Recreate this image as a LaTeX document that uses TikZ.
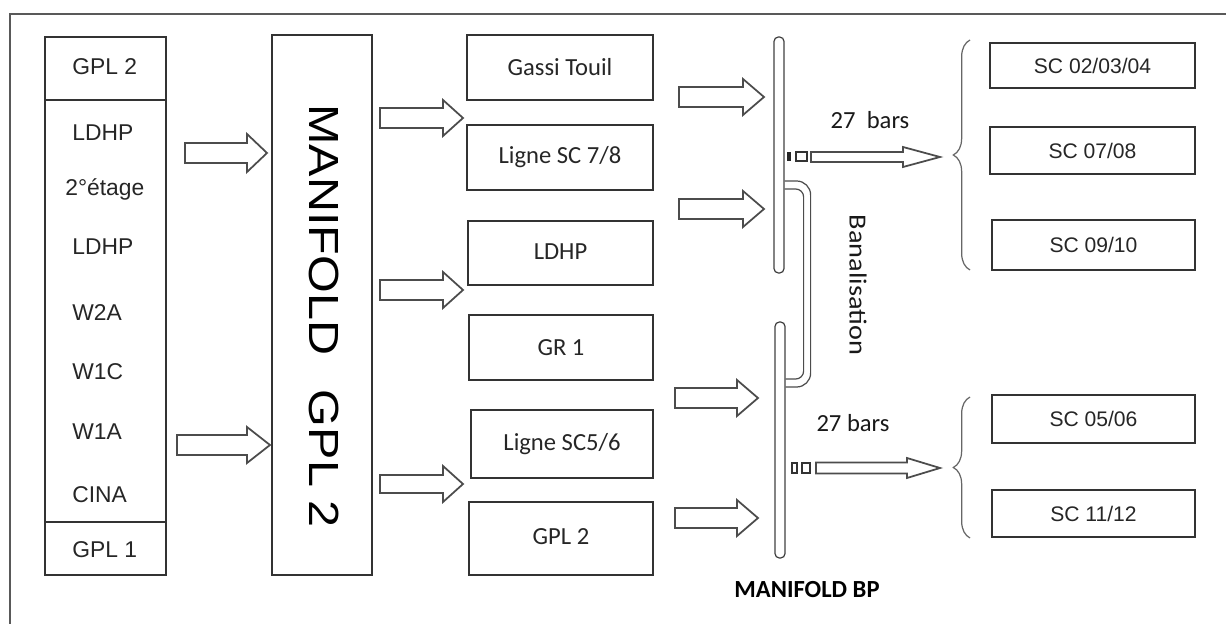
\documentclass[tikz,border=0pt]{standalone}
\usepackage{fontspec}
\usepackage{graphicx}
\setmainfont{Liberation Sans}
\newfontfamily\carl{Carlito}
\usetikzlibrary{calc,decorations.pathreplacing}
% horizontal hollow block arrow: #1 start, #2 tip, #3 shaft half, #4 head half, #5 head length
\newcommand\blockarr[5]{%
  \draw[blk] ($(#1)+(0,-#3)$) -- ($(#2)+(-#5,-#3)$) -- ($(#2)+(-#5,-#4)$) -- (#2)
    -- ($(#2)+(-#5,#4)$) -- ($(#2)+(-#5,#3)$) -- ($(#1)+(0,#3)$) -- cycle;}
\begin{document}
\begin{tikzpicture}[x=0.02cm,y=-0.02cm,
  box/.style={draw=black!80, line width=0.8pt, inner sep=0pt, text=black!85},
  blk/.style={draw=black!70, line width=1pt, fill=white, line join=miter},
  frame/.style={draw=black!65, line width=1.1pt},
  bar/.style={draw=black!75, line width=0.7pt, rounded corners=2.5pt, inner sep=0pt, minimum width=10*0.02cm},
  pipe/.style={draw=black!70, line width=0.7pt},
  brc/.style={draw=black!60, line width=0.7pt, decorate, decoration={brace, amplitude=9.5pt}},
  lft/.style={anchor=west, inner sep=0pt, text=black!85, font=\fontsize{13}{15}\selectfont},
  mid/.style={box, font=\carl\fontsize{14}{16}\selectfont},
  sc/.style={box, font=\fontsize{12}{14}\selectfont, minimum height=47*0.02cm},
  lbl/.style={inner sep=0pt, text=black!90, font=\carl\fontsize{14}{16}\selectfont}]
\useasboundingbox (0,0) rectangle (1226,624);
% outer frame (only left and top edges visible)
\draw[frame] (10,624) -- (10,14) -- (1226,14);

% left column
\node[box, minimum width=121*0.02cm, minimum height=63*0.02cm] (gpl2t) at (105.5,68.5) {};
\node[box, minimum width=121*0.02cm, minimum height=422*0.02cm] (srcs) at (105.5,311) {};
\node[box, minimum width=121*0.02cm, minimum height=53*0.02cm] (gpl1b) at (105.5,548.5) {};
\node[lft] (tGPLa) at (72,67) {GPL 2};
\node[lft] (tLDHPa) at (72,133) {LDHP};
\node[lft] (tEtage) at (65,189) {2°étage};
\node[lft] (tLDHPb) at (72,247) {LDHP};
\node[lft] (tW2A) at (72,313) {W2A};
\node[lft] (tW1C) at (72,372) {W1C};
\node[lft] (tW1A) at (72,432) {W1A};
\node[lft] (tCINA) at (72,495) {CINA};
\node[lft] (tGPLb) at (72,550) {GPL 1};

% manifold GPL 2
\node[box, minimum width=100*0.02cm, minimum height=540*0.02cm] (man) at (322,305) {};
\node[rotate=-90, inner sep=0pt, font=\fontsize{24}{28}\selectfont] (manT) at (324,316)
  {\scalebox{1.15}[1]{MANIFOLD\hspace{0.72em}GPL 2}};

% middle boxes
\node[mid, minimum width=186*0.02cm, minimum height=65*0.02cm] (gassi) at (560,67.5) {Gassi Touil};
\node[mid, minimum width=186*0.02cm, minimum height=65*0.02cm] (l78) at (560,157.5) {Ligne SC 7/8};
\node[mid, minimum width=185*0.02cm, minimum height=64*0.02cm] (ldhp) at (560.5,253) {\raisebox{2pt}{LDHP}};
\node[mid, minimum width=184*0.02cm, minimum height=65*0.02cm] (gr1) at (561,347.5) {GR 1};
\node[mid, minimum width=182*0.02cm, minimum height=68*0.02cm, line width=1.1pt] (l56) at (562,444) {Ligne SC5/6};
\node[mid, minimum width=184*0.02cm, minimum height=73*0.02cm] (gpl2m) at (561,538.5) {\raisebox{2pt}{GPL 2}};

% manifold BP bars
\node[bar, minimum height=236*0.02cm] (bpu) at (779,155) {};
\node[bar, minimum height=236*0.02cm] (bpl) at (780,440) {};
\node[inner sep=0pt, font=\carl\bfseries\fontsize{14}{16}\selectfont] (bpT) at (807,590) {MANIFOLD BP};

% banalisation pipe
\draw[pipe, rounded corners=14pt*0.567] ($(bpu.east)+(0,26)$) -- ++(26,0) |- ($(bpl.east)+(0,-53)$);
\draw[pipe, rounded corners=8pt*0.567] ($(bpu.east)+(0,34)$) -- ++(19,0) |- ($(bpl.east)+(0,-61)$);
\node[rotate=-90, lbl] (banT) at (858,285) {\scalebox{1.15}[1]{Banalisation}};

% block arrows: sources -> manifold GPL 2
\coordinate (a1s) at (185,153); \coordinate (a1e) at (267,153);
\coordinate (a2s) at (177,445); \coordinate (a2e) at (270,445);
\blockarr{a1s}{a1e}{10}{19}{20}
\blockarr{a2s}{a2e}{10}{18}{23}
% manifold GPL 2 -> destinations
\coordinate (a3s) at (380,118); \coordinate (a3e) at (463,118);
\coordinate (a4s) at (380,290); \coordinate (a4e) at (463,290);
\coordinate (a5s) at (380,484); \coordinate (a5e) at (463,484);
\blockarr{a3s}{a3e}{10}{18}{20}
\blockarr{a4s}{a4e}{10}{18}{20}
\blockarr{a5s}{a5e}{9}{18}{20}
% destinations -> manifold BP
\coordinate (a6s) at (679,97);  \coordinate (a6e) at (764,97);
\coordinate (a7s) at (679,209); \coordinate (a7e) at (764,209);
\coordinate (a8s) at (675,398); \coordinate (a8e) at (758,398);
\coordinate (a9s) at (675,518); \coordinate (a9e) at (758,518);
\blockarr{a6s}{a6e}{10}{18}{21}
\blockarr{a7s}{a7e}{10}{18}{21}
\blockarr{a8s}{a8e}{10}{18}{21}
\blockarr{a9s}{a9e}{10}{18}{21}

% outlets (valves + 27 bars arrows)
\fill[black!85] (787,152) rectangle (791,161);
\draw[black!80, line width=0.7pt] (796,152) rectangle (807,161);
\coordinate (o1s) at (811,157); \coordinate (o1e) at (940,157);
\blockarr{o1s}{o1e}{5}{10}{37}
\node[lbl] (bar1) at (870,120) {27\ \ bars};

\draw[black!80, line width=0.7pt] (792,463) rectangle (797,473);
\draw[black!80, line width=0.7pt] (802,463) rectangle (810,473);
\coordinate (o2s) at (816,468); \coordinate (o2e) at (940,468);
\blockarr{o2s}{o2e}{5.5}{10}{33}
\node[lbl] (bar2) at (853,423) {27 bars};

% braces
\draw[brc] (970,270) -- (970,40);
\draw[brc] (970,538) -- (970,397);

% right boxes
\node[sc, minimum width=205*0.02cm, minimum height=45*0.02cm] (sc1) at (1092.5,65.5) {\raisebox{-2pt}{SC 02/03/04}};
\node[sc, minimum width=205*0.02cm] (sc2) at (1092.5,150.5) {\raisebox{-2pt}{SC 07/08}};
\node[sc, minimum width=203*0.02cm, minimum height=50*0.02cm] (sc3) at (1093.5,245) {\raisebox{-2pt}{SC 09/10}};
\node[sc, minimum width=203*0.02cm, minimum height=48*0.02cm] (sc4) at (1093.5,419) {\raisebox{-2pt}{SC 05/06}};
\node[sc, minimum width=203*0.02cm] (sc5) at (1093.5,513.5) {\raisebox{-2pt}{SC 11/12}};
\end{tikzpicture}
\end{document}
